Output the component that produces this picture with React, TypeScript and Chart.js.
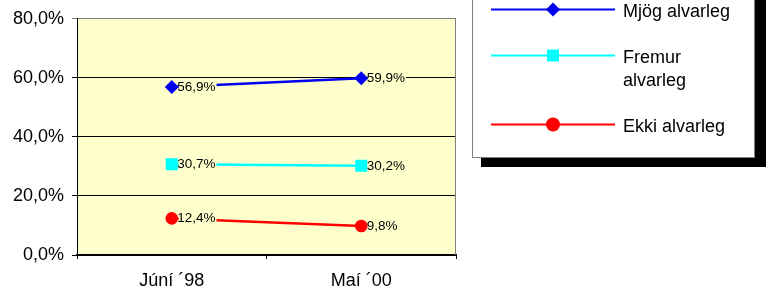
import React, { useEffect, useRef } from "react";
import { Chart, registerables } from "chart.js";

Chart.register(...registerables);

const categories = ["Júní ´98", "Maí ´00"];
const seriesNames = ["Mjög alvarleg", "Fremur alvarleg", "Ekki alvarleg"];
const legendLines = [["Mjög alvarleg"], ["Fremur", "alvarleg"], ["Ekki alvarleg"]];
const mjogValues = [56.9, 59.9];
const fremurValues = [30.7, 30.2];
const ekkiValues = [12.4, 9.8];
const yMin = 0;
const yMax = 80;
const yStep = 20;

const FONT = '"Liberation Sans", Arial, Helvetica, sans-serif';
const PLOT_BG = "#FFFFCC";
const COLORS = ["#0000F0", "#00FFFF", "#FF0000"];
const STYLES = ["rectRot", "rect", "circle"];
const RADII = [7, 8.5, 6.3];

const fmt = (v: number) => v.toFixed(1).replace(".", ",") + "%";

const bgPlugin = {
  id: "plotBg",
  beforeDraw(chart: any) {
    const { ctx, chartArea: a } = chart;
    ctx.save();
    ctx.fillStyle = "#FFFFFF";
    ctx.fillRect(0, 0, chart.width, chart.height);
    ctx.fillStyle = PLOT_BG;
    ctx.fillRect(a.left, a.top, a.right - a.left, a.bottom - a.top);
    ctx.restore();
  },
  afterDraw(chart: any) {
    const { ctx, chartArea: a } = chart;
    ctx.save();
    ctx.strokeStyle = "#808080";
    ctx.lineWidth = 1;
    ctx.beginPath();
    ctx.moveTo(Math.round(a.right) - 0.5, a.top);
    ctx.lineTo(Math.round(a.right) - 0.5, a.bottom);
    ctx.stroke();
    ctx.restore();
  },
};

const labelPlugin = {
  id: "dataLabels",
  afterDatasetsDraw(chart: any) {
    const ctx = chart.ctx;
    ctx.save();
    ctx.font = `13.5px ${FONT}`;
    ctx.textBaseline = "middle";
    ctx.textAlign = "left";
    chart.data.datasets.forEach((ds: any, i: number) => {
      const meta = chart.getDatasetMeta(i);
      meta.data.forEach((pt: any, j: number) => {
        const txt = fmt(ds.data[j]);
        const w = ctx.measureText(txt).width;
        const x = pt.x + 5.5;
        ctx.fillStyle = PLOT_BG;
        ctx.fillRect(pt.x + 7, pt.y - 7, w - 0.5, 14);
        ctx.fillStyle = "#000";
        ctx.fillText(txt, x, pt.y);
      });
    });
    ctx.restore();
  },
};

function drawMarker(ctx: CanvasRenderingContext2D, style: string, x: number, y: number, r: number, color: string) {
  ctx.fillStyle = color;
  ctx.beginPath();
  if (style === "rectRot") {
    ctx.moveTo(x, y - r);
    ctx.lineTo(x + r, y);
    ctx.lineTo(x, y + r);
    ctx.lineTo(x - r, y);
    ctx.closePath();
  } else if (style === "rect") {
    const s = r * Math.SQRT1_2;
    ctx.rect(x - s, y - s, 2 * s, 2 * s);
  } else {
    ctx.arc(x, y, r, 0, Math.PI * 2);
  }
  ctx.fill();
}

const legendPlugin = {
  id: "customLegend",
  afterDraw(chart: any) {
    const ctx = chart.ctx as CanvasRenderingContext2D;
    ctx.save();
    // shadow
    ctx.fillStyle = "#000";
    ctx.fillRect(481, -10, 285, 177);
    // box
    ctx.fillStyle = "#FFFFFF";
    ctx.fillRect(472, -10, 283, 167);
    ctx.strokeStyle = "#808080";
    ctx.lineWidth = 1;
    ctx.strokeRect(472.5, -10, 282, 167.5);

    const ys = [9.5, 55.5, 124.5];
    const markerR = [7, 8.5, 7];
    ctx.font = `18px ${FONT}`;
    ctx.textBaseline = "middle";
    ctx.textAlign = "left";
    seriesNames.forEach((_name, i) => {
      const y = ys[i];
      ctx.strokeStyle = COLORS[i];
      ctx.lineWidth = 2;
      ctx.beginPath();
      ctx.moveTo(491, y);
      ctx.lineTo(615, y);
      ctx.stroke();
      drawMarker(ctx, STYLES[i], 553, y, markerR[i], COLORS[i]);
      ctx.fillStyle = "#000";
      legendLines[i].forEach((line, k) => {
        ctx.fillText(line, 623, y + 3 + k * 22.5);
      });
    });
    ctx.restore();
  },
};

export default function App() {
  const ref = useRef<HTMLCanvasElement | null>(null);

  useEffect(() => {
    if (!ref.current) return;
    const values = [mjogValues, fremurValues, ekkiValues];
    const chart = new Chart(ref.current, {
      type: "line",
      data: {
        labels: categories,
        datasets: seriesNames.map((name, i) => ({
          label: name,
          data: values[i],
          borderColor: COLORS[i],
          backgroundColor: COLORS[i],
          borderWidth: 2.5,
          pointStyle: STYLES[i] as any,
          pointRadius: RADII[i],
          pointBorderWidth: 0,
          pointBackgroundColor: COLORS[i],
          pointBorderColor: COLORS[i],
          tension: 0,
        })),
      },
      options: {
        responsive: false,
        animation: false,
        events: [],
        layout: { padding: { left: 0, top: 17, right: 317, bottom: 0 } },
        plugins: {
          legend: { display: false },
          title: { display: false },
          tooltip: { enabled: false },
        },
        scales: {
          x: {
            offset: true,
            grid: {
              display: true,
              offset: true,
              drawOnChartArea: false,
              drawTicks: true,
              tickLength: 4,
              color: "#000",
            },
            border: { display: true, color: "#000", width: 2 },
            ticks: {
              color: "#000",
              font: { family: FONT, size: 18 },
              padding: 11,
              maxRotation: 0,
            },
            afterFit(scale: any) {
              scale.height = 36;
            },
          },
          y: {
            min: yMin,
            max: yMax,
            ticks: {
              stepSize: yStep,
              color: "#000",
              font: { family: FONT, size: 18 },
              padding: 8,
              callback: (v: any) => fmt(Number(v)),
            },
            grid: {
              display: true,
              drawTicks: true,
              tickLength: 5,
              color: (c: any) => (c.tick && c.tick.value === yMax ? "#808080" : "#000"),
              lineWidth: 1,
            },
            border: { display: true, color: "#000", width: 1 },
            afterFit(scale: any) {
              scale.width = 77;
            },
          },
        },
      },
      plugins: [bgPlugin, labelPlugin, legendPlugin],
    });
    return () => chart.destroy();
  }, []);

  return (
    <div style={{ position: "absolute", left: 0, top: 0, width: 773, height: 291 }}>
      <canvas ref={ref} width={773} height={291} style={{ display: "block" }} />
    </div>
  );
}
